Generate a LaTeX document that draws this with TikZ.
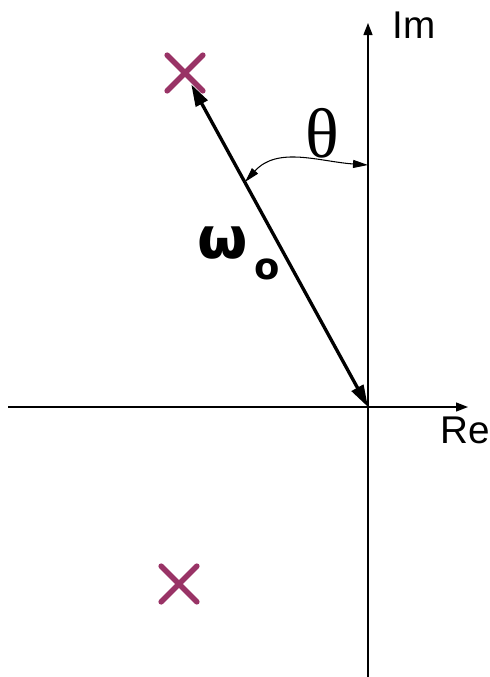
\documentclass[tikz,border=0pt]{standalone}
\usepackage{fontspec}
\setmainfont{Liberation Sans}
\newfontfamily\thetafont{Liberation Serif}
\newfontfamily\omegafont{DejaVu Sans}
\usetikzlibrary{arrows.meta,shapes.misc}
\definecolor{polecol}{RGB}{153,51,102}

\begin{document}
\begin{tikzpicture}[
    x=0.02cm, y=-0.02cm,
    axis/.style={line width=0.75pt, -{Triangle[length=0.24cm,width=0.18cm]}},
    vec/.style={line width=1.9pt, {Triangle[length=0.44cm,width=0.26cm]}-{Triangle[length=0.44cm,width=0.26cm]}},
    angarc/.style={line width=0.6pt, {Triangle[length=0.3cm,width=0.16cm]}-{Triangle[length=0.3cm,width=0.16cm]}},
    pole/.style={cross out, draw=polecol, line width=3.2pt, line cap=round, minimum size=0.6cm, inner sep=0pt},
    axlabel/.style={font=\fontsize{22}{26}\selectfont, anchor=base west, inner sep=0pt}
]
\useasboundingbox (0,0) rectangle (490,677);

% Axes
\coordinate (O) at (368,407);
\coordinate (reL) at (8,407);
\coordinate (reR) at (468,407);
\coordinate (imB) at (368,677);
\coordinate (imT) at (368,23);
\draw[axis] (reL) -- (reR);
\draw[axis] (imB) -- (imT);
\node[axlabel] (re) at (440,443) {Re};
\node[axlabel] (im) at (392,38) {Im};

% Poles
\node[pole] (p1) at (185,73) {};
\node[pole] (p2) at (179,584) {};

% Vector
\draw[vec, shorten >=0.26cm] (O) -- (p1.center);
\node[anchor=base west, inner sep=0pt, font=\omegafont\bfseries\fontsize{33}{36}\selectfont] (w) at (197,258)
    {ω\hspace{4pt}\raisebox{-12.5pt}{\fontsize{21}{24}\selectfont o}};

% Angle
\coordinate (thA) at (245,182);
\coordinate (thB) at (368,165);
\draw[angarc] (thA) to[out=48, in=176] (thB);
\node[anchor=base west, inner sep=0pt, font=\thetafont\fontsize{40}{44}\selectfont] (th) at (305,157) {θ};

\end{tikzpicture}
\end{document}
